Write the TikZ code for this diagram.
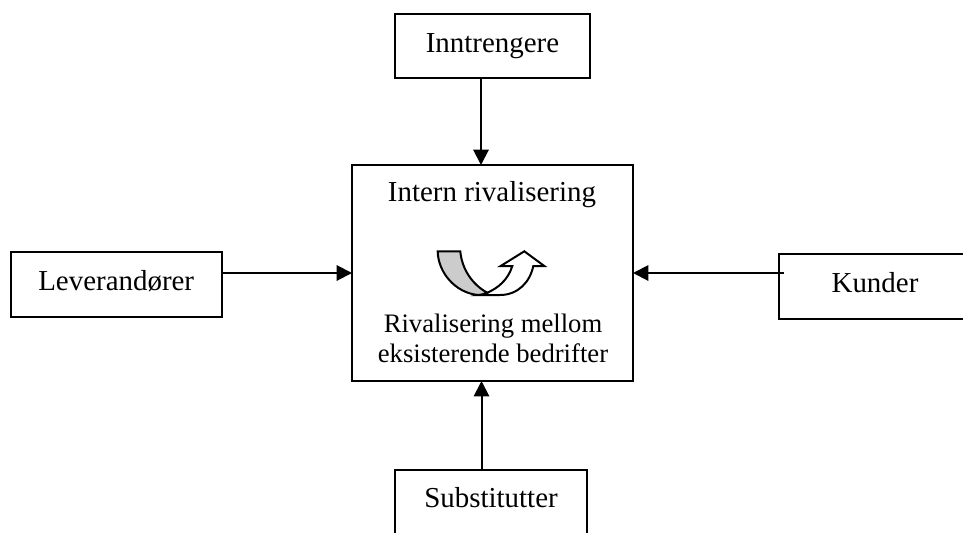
\documentclass[tikz,border=0pt]{standalone}
\usepackage{fontspec}
\setmainfont{Liberation Serif}
\usetikzlibrary{arrows.meta}
\tikzset{
  pic/.style={x=0.75pt,y=-0.75pt},
  boxnode/.style={draw=black,line width=1.5pt,fill=white,inner sep=0pt,anchor=center,text=black,text height=14pt,text depth=5pt,font=\fontsize{21.7pt}{26pt}\selectfont},
  lab/.style={inner sep=0pt,anchor=base,text=black,font=\fontsize{21.7pt}{26pt}\selectfont},
  smalllab/.style={lab,font=\fontsize{20pt}{24pt}\selectfont},
  conn/.style={draw=black,line width=1.5pt,-{Triangle[length=11.5pt,width=11.5pt]}},
  curve/.style={draw=black,line width=1.5pt,line join=miter}
}
\begin{document}
\begin{tikzpicture}[pic]
\useasboundingbox (0,0) rectangle (963,532);
\node[boxnode,minimum width=211*0.75pt,minimum height=65*0.75pt] (lev) at (116.2,284.2) {Leverandører};
\node[boxnode,minimum width=192*0.75pt,minimum height=65*0.75pt] (kun) at (875,286.5) {Kunder};
\node[boxnode,minimum width=195*0.75pt,minimum height=64.5*0.75pt] (inn) at (492.5,46.2) {Inntrengere};
\node[boxnode,text height=8pt,text depth=8pt,minimum width=192*0.75pt,minimum height=74*0.75pt] (sub) at (491,507) {Substitutter};
\node[boxnode,minimum width=281*0.75pt,minimum height=216*0.75pt] (mid) at (492.5,273) {};
\node[lab] (t1) at (492,201.5) {Intern rivalisering};
\node[smalllab] (t2) at (493,332) {Rivalisering mellom};
\node[smalllab] (t3) at (493,362) {eksisterende bedrifter};
\coordinate (levout) at (222,273);
\coordinate (midl) at (352,273);
\coordinate (kunout) at (784,273);
\coordinate (midr) at (633,273);
\coordinate (innout) at (481,78);
\coordinate (midt) at (481,165);
\coordinate (subout) at (481.5,469);
\coordinate (midb) at (481.5,381);
\draw[conn] (levout) -- (midl);
\draw[conn] (kunout) -- (midr);
\draw[conn] (innout) -- (midt);
\draw[conn] (subout) -- (midb);
% curved arrow
\draw[curve,fill=white] (478.3,295) -- (500,295)
  .. controls (518,295) and (530,282) .. (533.3,266)
  -- (544.3,266) -- (524.3,251.3) -- (500.7,266) -- (512.3,266)
  .. controls (508,280) and (498,288) .. (487.3,292.7) -- cycle;
\draw[curve,fill=black!20] (437.7,251.3) -- (460.3,251.3)
  .. controls (462,270) and (473,285) .. (487.3,292.7)
  .. controls (484,294) and (481,295) .. (478.3,295)
  .. controls (455,293) and (438,272) .. (437.7,251.3) -- cycle;
\end{tikzpicture}
\end{document}
